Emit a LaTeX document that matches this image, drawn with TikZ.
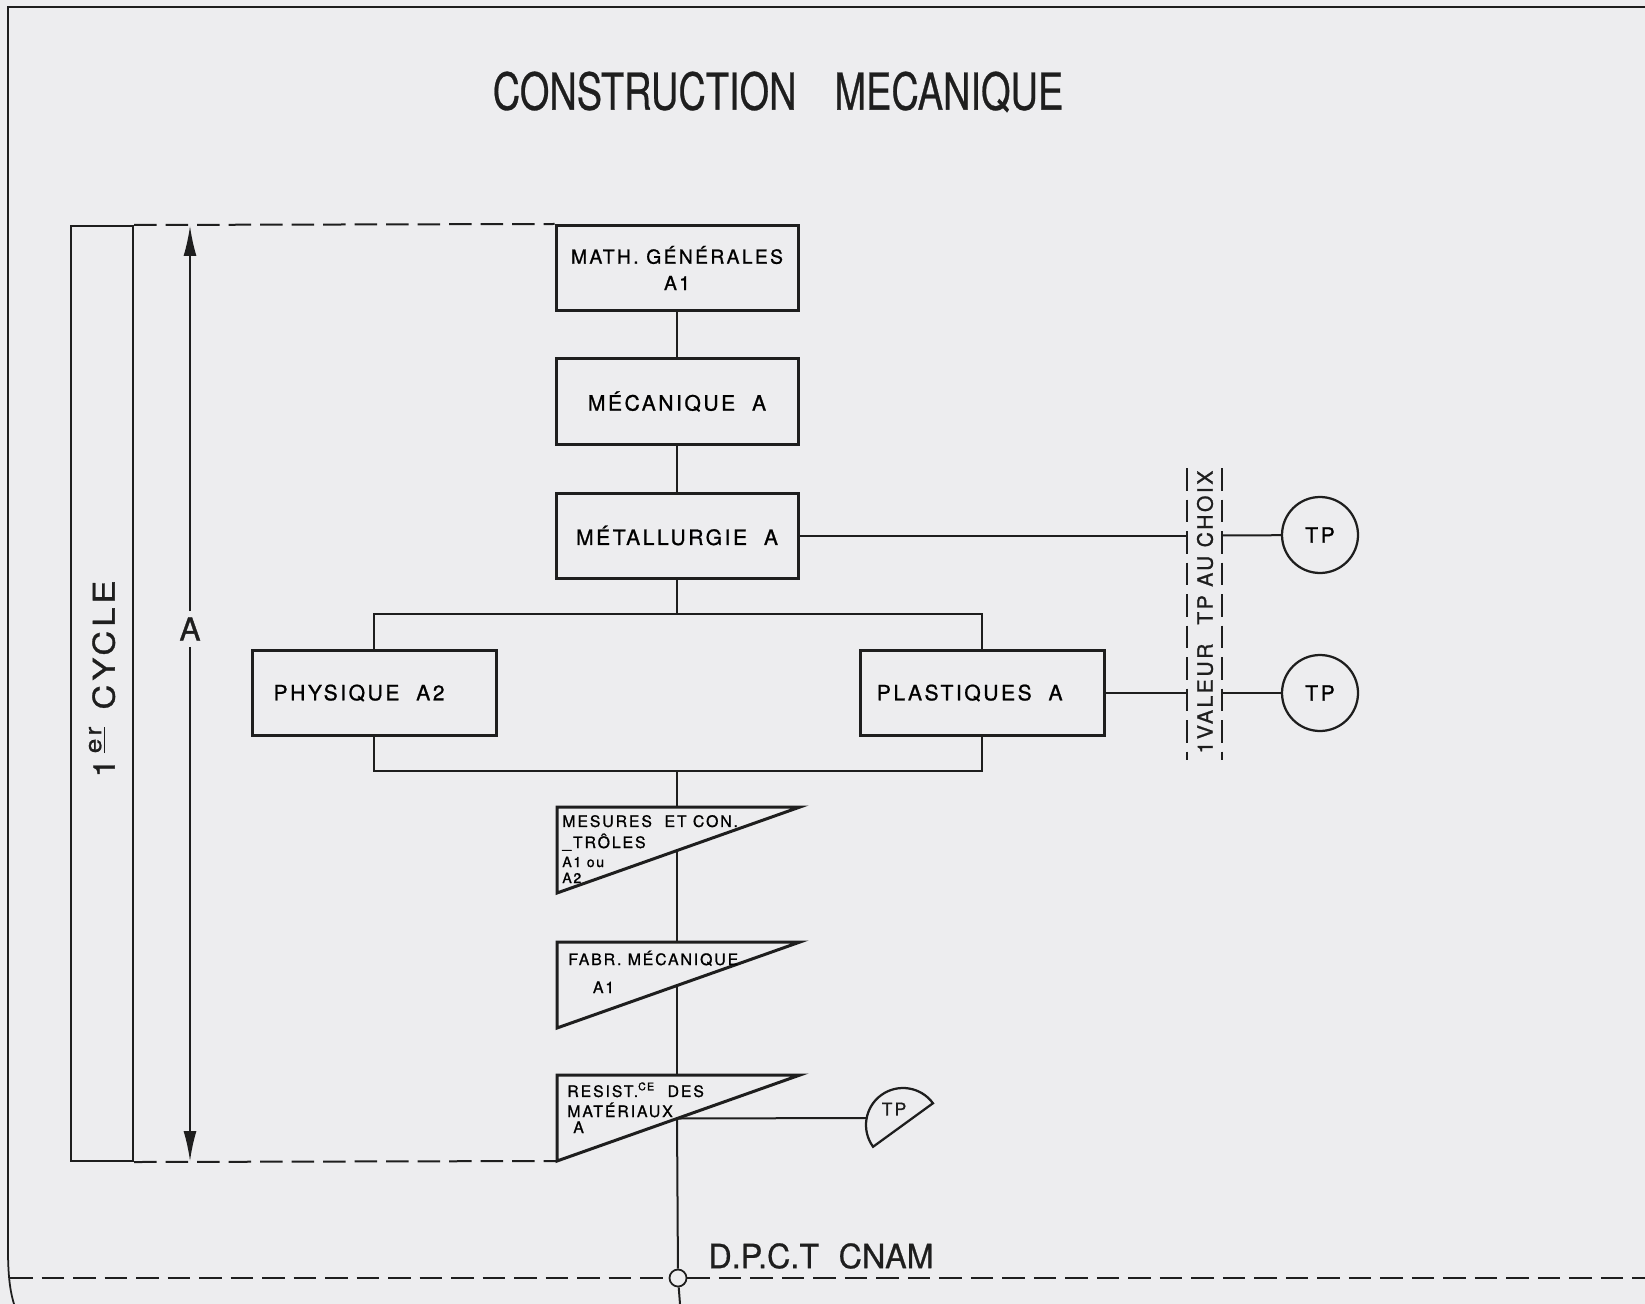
\documentclass[tikz,border=0pt]{standalone}
\usepackage{fontspec}
\usepackage{graphicx}
\setmainfont{TeX Gyre Heros}[FakeBold=0.6]
\newfontfamily\lettering[LetterSpace=12,FakeBold=1]{TeX Gyre Heros}
\usetikzlibrary{arrows.meta}
\definecolor{ink}{RGB}{30,30,30}
\definecolor{paper}{RGB}{237,237,239}

\begin{document}
\begin{tikzpicture}[x=0.2mm,y=-0.2mm,
    course/.style={draw=ink,line width=0.6mm,minimum width=48.4mm,minimum height=17mm,
      inner sep=0pt,align=center,font=\lettering\fontsize{12}{16}\selectfont},
    link/.style={draw=ink,line width=0.4mm},
    guide/.style={draw=ink,line width=0.4mm,dash pattern=on 4.5mm off 1.8mm},
    pennant/.style={draw=ink,line width=0.6mm,line join=miter},
    note/.style={anchor=base west,inner sep=0pt,align=left,
      font=\lettering\fontsize{9}{12}\selectfont},
    tp/.style={circle,draw=ink,line width=0.45mm,minimum size=15.2mm,inner sep=0pt,
      font=\lettering\fontsize{12}{14}\selectfont},
    dimarrow/.style={draw=ink,line width=0.35mm,-{Latex[length=6mm,width=2.6mm]}}]
    \fill[paper] (0,0) rectangle (1645,1304);
    \useasboundingbox (0,0) rectangle (1645,1304);

    % page frame
    \draw[ink,line width=0.35mm] (1645,7) -- (8,7) -- (8,1250) .. controls (8,1280) and (11,1294) .. (14,1304);

    \node[text=ink] (title) at (778,92)
        {\scalebox{0.745}[1]{\fontsize{29}{30}\selectfont CONSTRUCTION\hspace{1em}MECANIQUE}};

    % first cycle strip and its height
    \node[draw=ink,line width=0.4mm,minimum width=12.4mm,minimum height=187mm,inner sep=0pt] (cyc) at (102,693.5) {};
    \node[rotate=90,text=ink,font=\lettering\fontsize{17}{19}\selectfont] (cyclab) at (102,679)
        {\scalebox{1.15}[1]{1\hspace{0.15em}\raisebox{0.45em}{\fontsize{13}{13}\selectfont\underline{er}}\hspace{0.5em}CYCLE}};
    \coordinate (atop) at (190,226);
    \coordinate (abot) at (190,1161);
    \node[text=ink,inner sep=1.2mm,font=\lettering\fontsize{18}{20}\selectfont] (alab) at (190,629) {A};
    \draw[dimarrow] (alab) -- (atop);
    \draw[dimarrow] (alab) -- (abot);

    % course boxes
    \node[course,font=\lettering\fontsize{11}{15}\selectfont] (math) at (677,268) {MATH.~GÉNÉRALES\\A1};
    \node[course] (meca) at (677,401.5) {MÉCANIQUE~~A};
    \node[course] (metal) at (677,535.5) {MÉTALLURGIE~~A};
    \node[course,minimum width=48.8mm] (phys) at (374,693) {PHYSIQUE~~A2\hspace*{17pt}};
    \node[course,minimum width=48.8mm] (plast) at (982,693) {PLASTIQUES~~A\hspace*{14pt}};

    \draw[guide] (cyc.north east) -- (math.north west);

    \coordinate (fork) at (677,614);
    \coordinate (join) at (677,771);
    \draw[link] (math) -- (meca);
    \draw[link] (meca) -- (metal);
    \draw[link] (metal) -- (fork);
    \draw[link] (phys.north) -- (phys.north |- fork) -- (plast.north |- fork) -- (plast.north);
    \draw[link] (phys.south) -- (phys.south |- join) -- (plast.south |- join) -- (plast.south);

    % pennants
    \foreach \y/\n in {807/mes,942/fab,1075/rdm} {
        \draw[pennant] (557,\y) coordinate (\n) -- ++(243,0) -- (557,\y+86) coordinate (\n-foot) -- cycle;
        \coordinate (\n-cut) at (677,\y+43.5);
    }
    \node[note] (mestxt) at (562,883)
        {MESURES~~ET~CON.\\\_TRÔLES\\[-1.2pt]{\fontsize{8}{9}\selectfont A1 ou}\\[-2.9pt]{\fontsize{8}{9}\selectfont A2}};
    \node[note] (fabtxt) at (568,993) {FABR.~MÉCANIQUE\\[3.9pt]\hspace*{14pt}A1};
    \node[note] (rdmtxt) at (567,1133)
        {RESIST.\textsuperscript{CE}~~DES\\[-0.6pt]MATÉRIAUX\\[-2.9pt]\hspace*{3.4pt}A};

    \draw[link] (join) -- (join |- mes);
    \draw[link] (mes-cut) -- (mes-cut |- fab);
    \draw[link] (fab-cut) -- (fab-cut |- rdm);
    \draw[guide] (cyc.south east) -- (rdm-foot);

    % practical work
    \coordinate (vl) at (1187,468);
    \coordinate (vlb) at (1187,760);
    \coordinate (vr) at (1222,468);
    \coordinate (vrb) at (1222,760);
    \draw[guide] (vl) -- (vlb);
    \draw[guide] (vr) -- (vrb);
    \node[rotate=90,text=ink,font=\lettering\fontsize{12}{14}\selectfont] (choix) at (1205,612)
        {1VALEUR\hspace{0.5em} TP AU CHOIX};
    \node[tp] (tp1) at (1320,535) {TP};
    \node[tp] (tp2) at (1320,693) {TP};
    \draw[link] (metal.east) -- (metal.east -| vl);
    \draw[link] (metal.east -| vr) -- (tp1);
    \draw[link] (plast.east) -- (plast.east -| vl);
    \draw[link] (plast.east -| vr) -- (tp2);

    \draw[draw=ink,line width=0.45mm] (903,1125) ++(-36:37) arc[start angle=-36,end angle=-216,radius=37] -- cycle;
    \node[text=ink,inner sep=0pt,font=\lettering\fontsize{10}{12}\selectfont] (tp3) at (894,1109) {TP};
    \coordinate (tp3w) at (866,1118);
    \draw[link] (rdm-cut) -- (tp3w);

    % diploma line
    \node[circle,draw=ink,fill=paper,line width=0.35mm,minimum size=3.4mm,inner sep=0pt] (pole) at (678,1278) {};
    \coordinate (edgeL) at (10,1278);
    \coordinate (edgeR) at (1645,1278);
    \coordinate (stem) at (680,1304);
    \draw[guide] (edgeL) -- (pole) -- (edgeR);
    \draw[link] (rdm-cut) -- (pole);
    \draw[link] (pole) -- (stem);
    \node[text=ink] (dpct) at (821,1256)
        {\scalebox{0.97}[1]{\fontsize{19}{20}\selectfont D.P.C.T\hspace{0.6em}CNAM}};
\end{tikzpicture}
\end{document}
